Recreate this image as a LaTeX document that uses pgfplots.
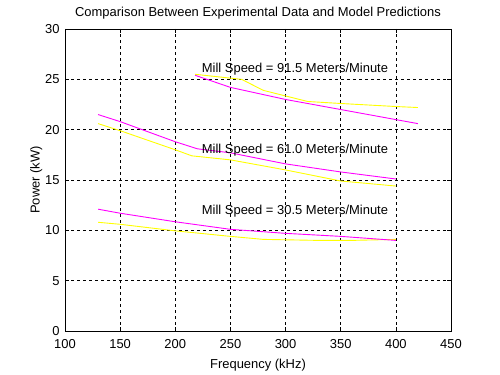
\documentclass[border=0pt]{standalone}
\usepackage{pgfplots}
\pgfplotsset{compat=1.18}
\usepackage{fontspec}
\setmainfont{Liberation Sans}
\definecolor{myyellow}{rgb}{1,1,0}
\definecolor{mymag}{rgb}{1,0,1}
\begin{document}
\fontsize{13}{15}\selectfont
\begin{tikzpicture}
\useasboundingbox (0,0) rectangle (500bp,375bp);
\begin{axis}[
  at={(65bp,44bp)}, anchor=south west,
  scale only axis, width=386bp, height=302bp,
  xmin=100, xmax=450, ymin=0, ymax=30,
  xtick={100,150,...,450}, ytick={0,5,...,30},
  grid=major,
  major grid style={black, dash pattern=on 3bp off 3bp, line width=0.5bp},
  axis line style={black, line width=0.6bp},
  tick align=inside, major tick length=4bp,
  tick style={black, line width=0.5bp},
  /pgf/number format/assume math mode=true,
  tick label style={font=\fontsize{13}{15}\selectfont},
  xticklabel style={yshift=-4bp},
  yticklabel style={xshift=-1bp},
  title={Comparison Between Experimental Data and Model Predictions},
  title style={font=\fontsize{13}{15}\selectfont, yshift=-1bp},
  xlabel={Frequency (kHz)},
  ylabel={Power (kW)},
  label style={font=\fontsize{13}{15}\selectfont},
  xlabel style={yshift=-2bp},
  ylabel style={yshift=-6bp},
]
% experimental (yellow)
\addplot[myyellow, line width=0.9bp] coordinates {(218,25.5) (260,25.0) (280,23.9) (320,22.8) (350,22.6) (400,22.3) (420,22.2)};
\addplot[myyellow, line width=0.9bp] coordinates {(130,20.6) (150,19.9) (200,18.0) (215,17.4) (250,17.0) (300,16.0) (350,14.9) (400,14.4)};
\addplot[myyellow, line width=0.9bp] coordinates {(130,10.8) (150,10.6) (200,9.95) (250,9.4) (280,9.1) (330,9.0) (360,9.0) (400,9.1)};
% model (magenta)
\addplot[mymag, line width=0.9bp] coordinates {(218,25.4) (250,24.2) (300,23.0) (350,22.0) (400,21.0) (420,20.6)};
\addplot[mymag, line width=0.9bp] coordinates {(130,21.5) (150,20.8) (200,18.8) (220,18.1) (250,17.7) (300,16.6) (350,15.8) (400,15.1)};
\addplot[mymag, line width=0.9bp] coordinates {(130,12.1) (150,11.7) (200,10.85) (250,10.1) (300,9.7) (350,9.4) (400,9.0)};
\node[anchor=west, inner sep=0pt] at (axis cs:224,26.0) {Mill Speed = 91.5 Meters/Minute};
\node[anchor=west, inner sep=0pt] at (axis cs:224,18.0) {Mill Speed = 61.0 Meters/Minute};
\node[anchor=west, inner sep=0pt] at (axis cs:224,11.9) {Mill Speed = 30.5 Meters/Minute};
\end{axis}
\end{tikzpicture}
\end{document}
